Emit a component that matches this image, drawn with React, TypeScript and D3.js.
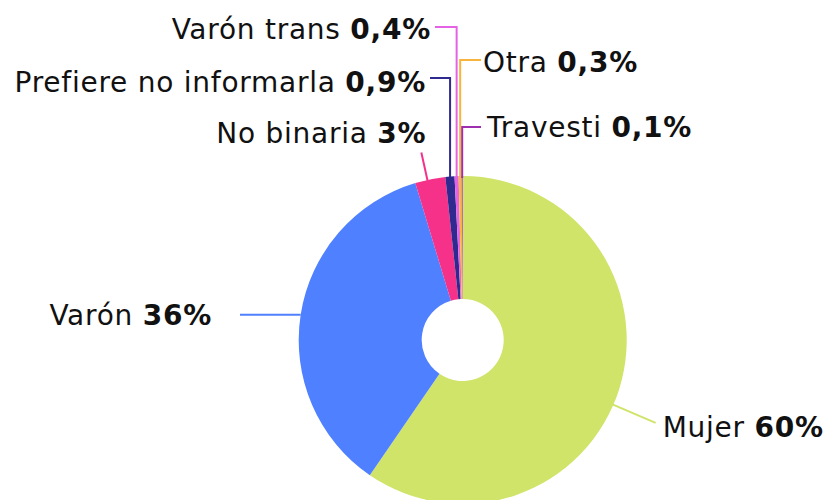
import * as d3 from 'd3'
import { FC } from 'react'

// data
const categories = ['Mujer', 'Varón', 'No binaria', 'Prefiere no informarla', 'Varón trans', 'Otra', 'Travesti']
const values = [60, 36, 3, 0.9, 0.4, 0.3, 0.1]
const valueLabels = ['60%', '36%', '3%', '0,9%', '0,4%', '0,3%', '0,1%']
const colors = ['#cfe468', '#4f80ff', '#f5318a', '#2f2a8f', '#e463e4', '#f8b43c', '#9e2fb0']

const width = 827
const height = 500
const cx = 462.7
const cy = 340
const outerR = 164
const innerR = 41
const fontSize = 28

// label layout: how each leader line leaves the pie
type Layout =
  | { kind: 'horizontal'; toX: number; textX: number; dy: number }
  | { kind: 'radial'; shift: number; toR: number; anchor: 'start' | 'end'; dx: number; dy: number }
  | { kind: 'elbow'; elbowY: number; toX: number; anchor: 'start' | 'end'; dx: number; dy: number }

const layouts: Layout[] = [
  { kind: 'radial', shift: 6, toR: 210, anchor: 'start', dx: 7, dy: 14 },
  { kind: 'horizontal', toX: 240, textX: 212, dy: 10 },
  { kind: 'radial', shift: -1, toR: 192, anchor: 'end', dx: 5, dy: -10 },
  { kind: 'elbow', elbowY: 78, toX: 430, anchor: 'end', dx: -4, dy: 14 },
  { kind: 'elbow', elbowY: 27, toX: 435, anchor: 'end', dx: -4, dy: 12 },
  { kind: 'elbow', elbowY: 60, toX: 481, anchor: 'start', dx: 2, dy: 12 },
  { kind: 'elbow', elbowY: 127, toX: 481, anchor: 'start', dx: 6, dy: 10 },
]

const pt = (a: number, r: number): [number, number] => [cx + r * Math.sin(a), cy - r * Math.cos(a)]

const App: FC = () => {
  const pie = d3
    .pie<number>()
    .sort(null)
    .value((d) => d)
  const arcs = pie(values)
  const arc = d3.arc<d3.PieArcDatum<number>>().innerRadius(innerR).outerRadius(outerR)

  return (
    <svg
      width={width}
      height={height}
      style={{ position: 'absolute', left: 0, top: 0, display: 'block', background: '#fff' }}
      fontFamily="'DejaVu Sans', sans-serif"
      fontSize={fontSize}
      letterSpacing={0.75}
    >
      {/* slices */}
      <g transform={`translate(${cx},${cy})`}>
        {arcs.map((d, i) => (
          <path key={i} d={arc(d) as string} fill={colors[i]} />
        ))}
      </g>

      {/* leader lines + labels */}
      {arcs.map((d, i) => {
        const mid = (d.startAngle + d.endAngle) / 2
        const l = layouts[i]
        let points: [number, number][] = []
        let tx = 0
        let ty = 0
        let anchor: 'start' | 'end' = 'end'
        if (l.kind === 'horizontal') {
          const s = pt(mid, outerR)
          points = [s, [l.toX, s[1]]]
          tx = l.textX
          ty = s[1] + l.dy
          anchor = 'end'
        } else if (l.kind === 'radial') {
          const a = mid + (l.shift * Math.PI) / 180
          const s = pt(a, outerR - 1)
          const e = pt(a, l.toR)
          points = [s, e]
          tx = e[0] + l.dx
          ty = e[1] + l.dy
          anchor = l.anchor
        } else {
          const s = pt(mid, outerR - 2)
          points = [s, [s[0], l.elbowY], [l.toX, l.elbowY]]
          tx = l.toX + l.dx
          ty = l.elbowY + l.dy
          anchor = l.anchor
        }
        return (
          <g key={i}>
            <polyline
              points={points.map((p) => p.join(',')).join(' ')}
              fill="none"
              stroke={colors[i]}
              strokeWidth={2}
            />
            <text x={tx} y={ty} textAnchor={anchor} fill="#111">
              {categories[i]} <tspan fontWeight="bold">{valueLabels[i]}</tspan>
            </text>
          </g>
        )
      })}
    </svg>
  )
}

export default App
